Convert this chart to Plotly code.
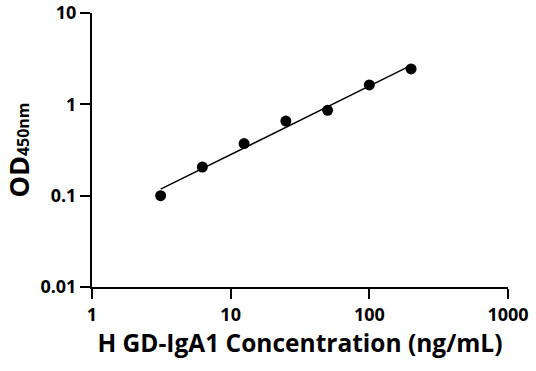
import numpy as np
import plotly.graph_objects as go

concentration = [3.125, 6.25, 12.5, 25, 50, 100, 200]
od450 = [0.10, 0.206, 0.372, 0.655, 0.86, 1.63, 2.44]
x_ticks = [1, 10, 100, 1000]
x_tick_labels = ["1", "10", "100", "1000"]
y_ticks = [0.01, 0.1, 1, 10]
y_tick_labels = ["0.01", "0.1", "1", "10"]

# log-log linear fit of the standard curve
lx = np.log10(concentration)
ly = np.log10(od450)
slope, intercept = np.polyfit(lx, ly, 1)
fit_x = np.logspace(lx.min(), lx.max(), 50)
fit_y = 10 ** (intercept + slope * np.log10(fit_x))

FONT = "Open Sans"

fig = go.Figure()
fig.add_trace(go.Scatter(x=fit_x, y=fit_y, mode="lines",
                         line=dict(color="black", width=1.4), hoverinfo="skip"))
fig.add_trace(go.Scatter(x=concentration, y=od450, mode="markers",
                         marker=dict(color="black", size=11)))

axis_common = dict(type="log", showgrid=False, zeroline=False, showline=True,
                   linecolor="black", linewidth=2, ticks="outside", ticklen=10,
                   tickwidth=2, tickcolor="black", automargin=False,
                   tickfont=dict(family=FONT, size=18, color="black"))

fig.update_xaxes(range=[0, 3], tickvals=x_ticks,
                 ticktext=[f"<b>{t}</b>" for t in x_tick_labels],
                 title=dict(text="<b>H GD-IgA1 Concentration (ng/mL)</b>",
                            font=dict(family=FONT, size=24.5, color="black"), standoff=10),
                 **axis_common)
fig.update_yaxes(range=[-2, 1], tickvals=y_ticks,
                 ticktext=[f"<b>{t}</b>" for t in y_tick_labels],
                 title=dict(text="<b>OD<span style='font-size:16px'>450nm</span></b>",
                            font=dict(family=FONT, size=27, color="black"), standoff=6),
                 **axis_common)

fig.update_layout(width=536, height=371, showlegend=False,
                  plot_bgcolor="white", paper_bgcolor="white",
                  margin=dict(l=92, r=28, t=13, b=84))

fig.write_html("out.html", config={"displayModeBar": False},
               post_script="document.body.style.margin='0';")
